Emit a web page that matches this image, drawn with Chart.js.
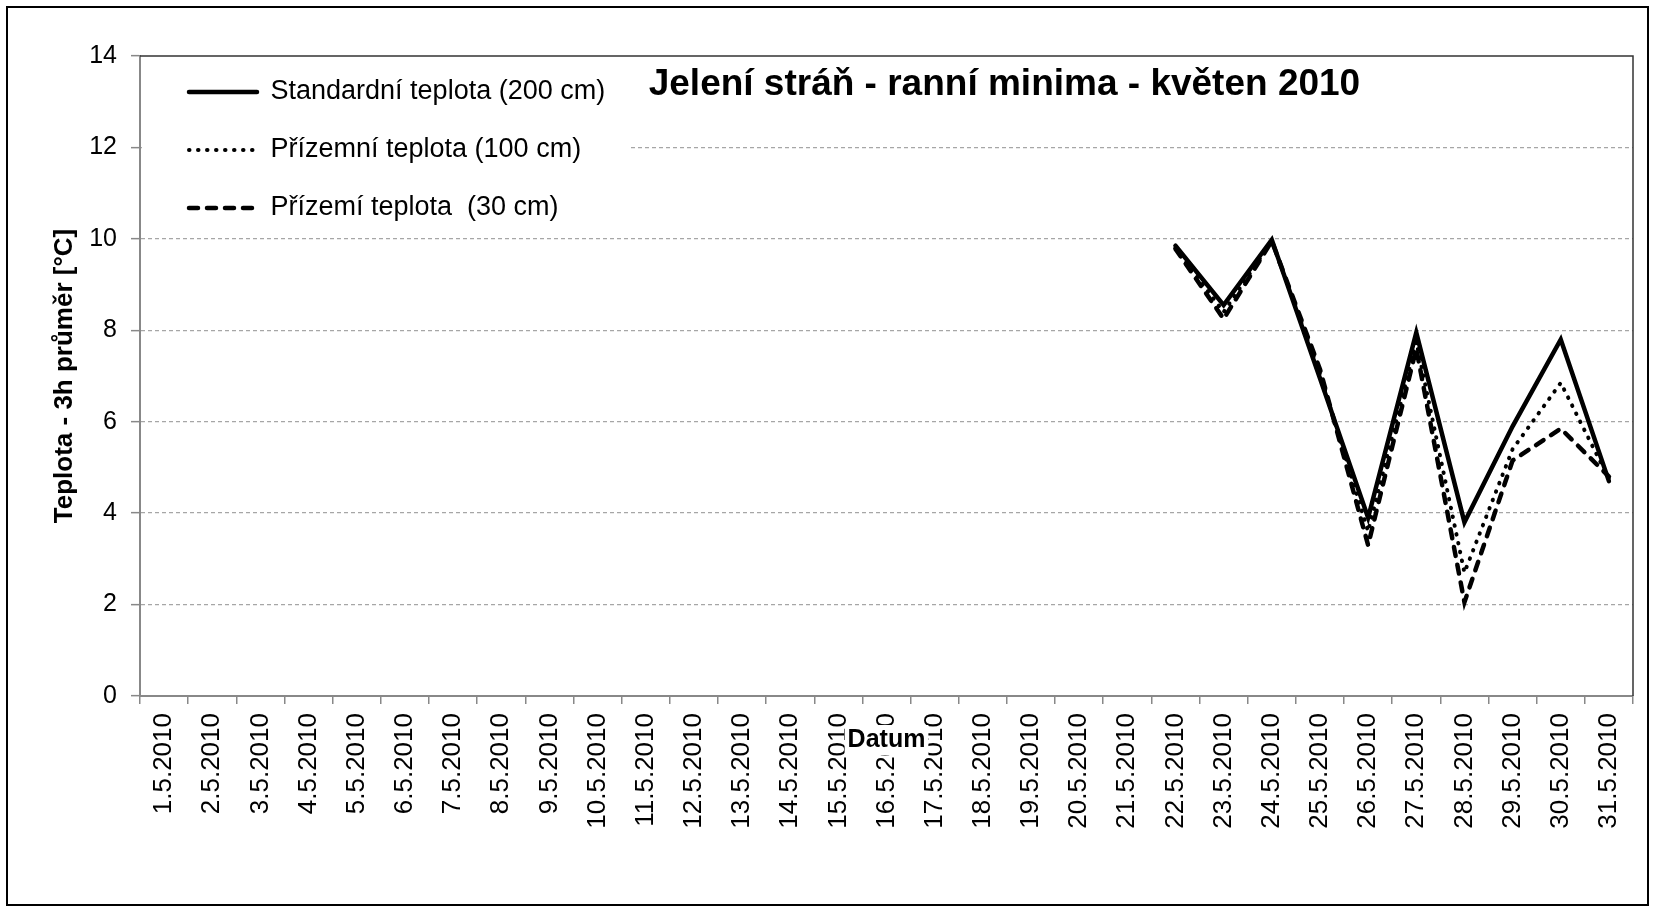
<!DOCTYPE html>
<html>
<head>
<meta charset="utf-8">
<script src="https://cdn.jsdelivr.net/npm/chart.js@4"></script>
<style>
  html, body { margin: 0; padding: 0; background: #fff; }
  #wrap { width: 1655px; height: 909px; }
</style>
</head>
<body>
<div id="wrap"><canvas id="tempChart" width="1655" height="909"></canvas></div>
<script>
// Days of May 2010
var days = [];
for (var d = 1; d <= 31; d++) days.push(d + '.5.2010');

// Measured only from 22.5. on, earlier days are empty
var standard200 = [null, null, null, null, null, null, null, null, null, null, null, null, null, null, null, null, null, null, null, null, null,
    9.85, 8.55, 9.98, 6.95, 3.9, 7.95, 3.8, 5.9, 7.8, 4.7];
var prizemni100 = [null, null, null, null, null, null, null, null, null, null, null, null, null, null, null, null, null, null, null, null, null,
    9.8, 8.4, 9.95, 7.05, 3.6, 7.75, 2.7, 5.4, 6.85, 4.75];
var prizemi30 = [null, null, null, null, null, null, null, null, null, null, null, null, null, null, null, null, null, null, null, null, null,
    9.78, 8.25, 9.95, 7.15, 3.3, 7.6, 2.05, 5.15, 5.85, 4.8];

var yTicks = [0, 2, 4, 6, 8, 10, 12, 14];

var FONT = "'Liberation Sans', Arial, sans-serif";

// white page, outer frame, plot border on top and right
var frame = {
    id: 'frame',
    beforeDraw: function(chart) {
        var ctx = chart.ctx;
        ctx.save();
        ctx.fillStyle = '#fff';
        ctx.fillRect(0, 0, chart.width, chart.height);
        ctx.strokeStyle = '#000';
        ctx.lineWidth = 2;
        ctx.strokeRect(7, 7, chart.width - 14, chart.height - 11);
        ctx.restore();
    },
    afterDraw: function(chart) {
        var a = chart.chartArea, ctx = chart.ctx;
        ctx.save();
        ctx.strokeStyle = '#333';
        ctx.lineWidth = 1.5;
        ctx.beginPath();
        ctx.moveTo(a.left, a.top);
        ctx.lineTo(a.right, a.top);
        ctx.lineTo(a.right, a.bottom);
        ctx.stroke();
        ctx.restore();
    }
};

// legend sits on a white box over the grid, a bit in from the axis
var LEGEND_SHIFT = 18;
var legendBackground = {
    id: 'legendBackground',
    afterInit: function(chart) {
        var legend = chart.legend;
        var draw = legend.draw.bind(legend);
        legend.draw = function() {
            var c = chart.ctx;
            var boxes = legend.legendHitBoxes || [];
            if (boxes.length) {
                var a = chart.chartArea;
                var right = 0, bottom = 0;
                boxes.forEach(function(b) {
                    right = Math.max(right, b.left + b.width);
                    bottom = Math.max(bottom, b.top + b.height);
                });
                c.save();
                c.fillStyle = '#fff';
                c.fillRect(a.left + 2, a.top + 2, right + 40 - a.left, bottom + 8 - a.top);
                c.restore();
            }
            c.save();
            c.translate(LEGEND_SHIFT, 0);
            draw();
            c.restore();
        };
    }
};

// chart title inside the plot area, axis title "Datum" over the tick labels
var overlayText = {
    id: 'overlayText',
    afterDraw: function(chart) {
        var a = chart.chartArea, ctx = chart.ctx;
        ctx.save();
        ctx.fillStyle = '#000';
        ctx.textAlign = 'center';
        ctx.textBaseline = 'middle';
        ctx.font = 'bold 37px ' + FONT;
        ctx.fillText('Jelení stráň - ranní minima - květen 2010', a.left + a.width * 0.579, a.top + 29);

        ctx.font = 'bold 25px ' + FONT;
        var w = ctx.measureText('Datum').width;
        var cx = (a.left + a.right) / 2, cy = a.bottom + 44;
        ctx.fillStyle = '#fff';
        ctx.fillRect(cx - w / 2 - 3, cy - 15, w + 6, 30);
        ctx.fillStyle = '#000';
        ctx.fillText('Datum', cx, cy);
        ctx.restore();
    }
};

var ctx = document.getElementById('tempChart').getContext('2d');
var tempChart = new Chart(ctx, {
    type: 'line',
    data: {
        labels: days,
        datasets: [{
            label: 'Standardní teplota (200 cm)',
            data: standard200,
            borderColor: '#000',
            backgroundColor: '#000',
            borderWidth: 4.5,
            borderCapStyle: 'round',
            borderJoinStyle: 'miter'
        }, {
            label: 'Přízemní teplota (100 cm)',
            data: prizemni100,
            borderColor: '#000',
            backgroundColor: '#000',
            borderWidth: 4,
            borderDash: [0.5, 8.5],
            borderCapStyle: 'round'
        }, {
            label: 'Přízemí teplota  (30 cm)',
            data: prizemi30,
            borderColor: '#000',
            backgroundColor: '#000',
            borderWidth: 4.5,
            borderDash: [9, 9],
            borderCapStyle: 'round'
        }]
    },
    options: {
        responsive: false,
        animation: false,
        spanGaps: false,
        elements: { point: { radius: 0 }, line: { tension: 0 } },
        layout: { padding: { left: 8, right: 22, top: 56, bottom: 8 } },
        plugins: {
            title: { display: false },
            tooltip: { enabled: false },
            legend: {
                position: 'chartArea',
                align: 'start',
                title: { display: true, text: '', font: { size: 12 }, padding: { top: 33, bottom: 0 } },
                labels: {
                    usePointStyle: true,
                    pointStyle: 'line',
                    pointStyleWidth: 68,
                    color: '#000',
                    padding: 31,
                    font: { family: FONT, size: 27 },
                    // take the line dash and width from the datasets
                    generateLabels: function(chart) {
                        var items = Chart.defaults.plugins.legend.labels.generateLabels(chart);
                        items.forEach(function(item, i) {
                            var ds = chart.data.datasets[i];
                            item.pointStyle = 'line';
                            item.lineDash = ds.borderDash || [];
                            item.lineWidth = ds.borderWidth;
                            item.lineCap = ds.borderCapStyle || 'butt';
                            item.strokeStyle = ds.borderColor;
                        });
                        return items;
                    }
                }
            }
        },
        scales: {
            x: {
                offset: true,
                grid: {
                    offset: true,
                    drawOnChartArea: false,
                    drawTicks: true,
                    tickLength: 8,
                    color: '#888',
                    tickColor: '#888',
                    lineWidth: 1.5
                },
                border: { color: '#888', width: 2 },
                ticks: {
                    autoSkip: false,
                    minRotation: 90,
                    maxRotation: 90,
                    padding: 9,
                    color: '#000',
                    font: { family: FONT, size: 26 }
                },
                afterFit: function(scale) { scale.height = 205; }
            },
            y: {
                min: 0,
                max: 14,
                afterBuildTicks: function(scale) {
                    scale.ticks = yTicks.map(function(v) { return { value: v }; });
                },
                grid: {
                    color: function(c) {
                        return (c.tick && (c.tick.value === 0 || c.tick.value === 14)) ? 'rgba(0,0,0,0)' : '#a6a6a6';
                    },
                    lineWidth: 1.3,
                    tickColor: '#888',
                    tickLength: 9,
                    tickWidth: 1.5,
                    tickBorderDash: []
                },
                border: { color: '#888', width: 2, dash: [4, 3] },
                ticks: {
                    padding: 14,
                    color: '#000',
                    font: { family: FONT, size: 25 }
                },
                title: {
                    display: true,
                    text: 'Teplota - 3h průměr [°C]',
                    color: '#000',
                    font: { family: FONT, size: 26, weight: 'bold' },
                    padding: { top: 41, bottom: 0 }
                },
                afterFit: function(scale) { scale.width = 132; }
            }
        }
    },
    plugins: [frame, legendBackground, overlayText]
});
</script>
</body>
</html>
